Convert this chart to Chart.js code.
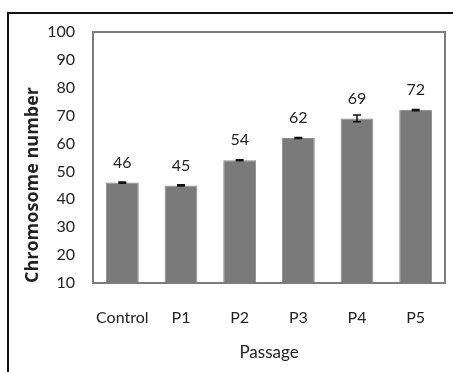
<!DOCTYPE html>
<html>
<head>
<meta charset="utf-8">
<script src="https://cdn.jsdelivr.net/npm/chart.js@4/dist/chart.umd.min.js"></script>
<style>
  html, body { margin: 0; padding: 0; background: #fff; }
  #wrap { position: relative; width: 453px; height: 372px; overflow: hidden; }
  #frame { position: absolute; left: 7px; top: 12px; width: 480px; height: 400px; border: 2px solid #111; }
  #myChart { position: absolute; left: 0; top: 0; }
</style>
</head>
<body>
<div id="wrap">
  <div id="frame"></div>
  <canvas id="myChart" width="453" height="372"></canvas>
</div>
<script>
var passages = ["Control", "P1", "P2", "P3", "P4", "P5"];
var chromosomes = [46, 45, 54, 62, 69, 72];
var errors = [0.2, 0.2, 0.2, 0.2, 1.2, 0.2];
var yTicks = [10, 20, 30, 40, 50, 60, 70, 80, 90, 100];

var textColor = "#222";
var fontName = "Lato, 'Open Sans', sans-serif";

// gray box round the plotting area
var plotFrame = {
  id: "plotFrame",
  afterDatasetsDraw: function(chart) {
    var a = chart.chartArea, ctx = chart.ctx;
    ctx.save();
    ctx.strokeStyle = "#7c7c7c";
    ctx.lineWidth = 2;
    ctx.strokeRect(a.left, a.top, a.right - a.left, a.bottom - a.top);
    ctx.restore();
  }
};

// error bars plus the value written above each bar
var barExtras = {
  id: "barExtras",
  afterDatasetsDraw: function(chart) {
    var ctx = chart.ctx;
    var y = chart.scales.y;
    var meta = chart.getDatasetMeta(0);
    ctx.save();
    meta.data.forEach(function(bar, i) {
      var v = chromosomes[i];
      var top = y.getPixelForValue(v + errors[i]);
      var bot = y.getPixelForValue(v - errors[i]);
      ctx.strokeStyle = "#111";
      ctx.lineWidth = 1.5;
      ctx.beginPath();
      ctx.moveTo(bar.x, top); ctx.lineTo(bar.x, bot);
      ctx.moveTo(bar.x - 4, top); ctx.lineTo(bar.x + 4, top);
      ctx.moveTo(bar.x - 4, bot); ctx.lineTo(bar.x + 4, bot);
      ctx.stroke();

      ctx.fillStyle = textColor;
      ctx.font = "16px " + fontName;
      ctx.textAlign = "center";
      ctx.textBaseline = "bottom";
      ctx.fillText(String(v), bar.x, y.getPixelForValue(v) - 12);
    });
    ctx.restore();
  }
};

new Chart("myChart", {
  type: "bar",
  data: {
    labels: passages,
    datasets: [{
      data: chromosomes,
      backgroundColor: "#7a7a7a",
      borderColor: "#8e8e8e",
      borderWidth: 1,
      categoryPercentage: 1.0,
      barPercentage: 0.56
    }]
  },
  options: {
    responsive: false,
    animation: false,
    layout: { padding: { left: 22, right: 8, top: 32, bottom: 9 } },
    plugins: {
      legend: { display: false },
      tooltip: { enabled: false }
    },
    scales: {
      x: {
        grid: { display: false, drawTicks: false },
        border: { display: false },
        ticks: { color: textColor, font: { family: fontName, size: 16 }, padding: 25 },
        title: {
          display: true,
          text: "Passage",
          color: textColor,
          font: { family: fontName, size: 17 },
          padding: { top: 10, bottom: 0 }
        },
        afterFit: function(s) { s.height = 80; }
      },
      y: {
        min: 10,
        max: 100,
        afterBuildTicks: function(s) { s.ticks = yTicks.map(function(v) { return { value: v }; }); },
        grid: { display: false, drawTicks: false },
        border: { display: false },
        ticks: { color: textColor, font: { family: fontName, size: 16 }, padding: 18 },
        title: {
          display: true,
          text: "Chromosome number",
          align: "start",
          color: textColor,
          font: { family: "'Open Sans', sans-serif", size: 18, weight: "bold" },
          padding: { top: 0, bottom: 0 }
        },
        afterFit: function(s) { s.width = 71; }
      }
    }
  },
  plugins: [plotFrame, barExtras]
});
</script>
</body>
</html>
